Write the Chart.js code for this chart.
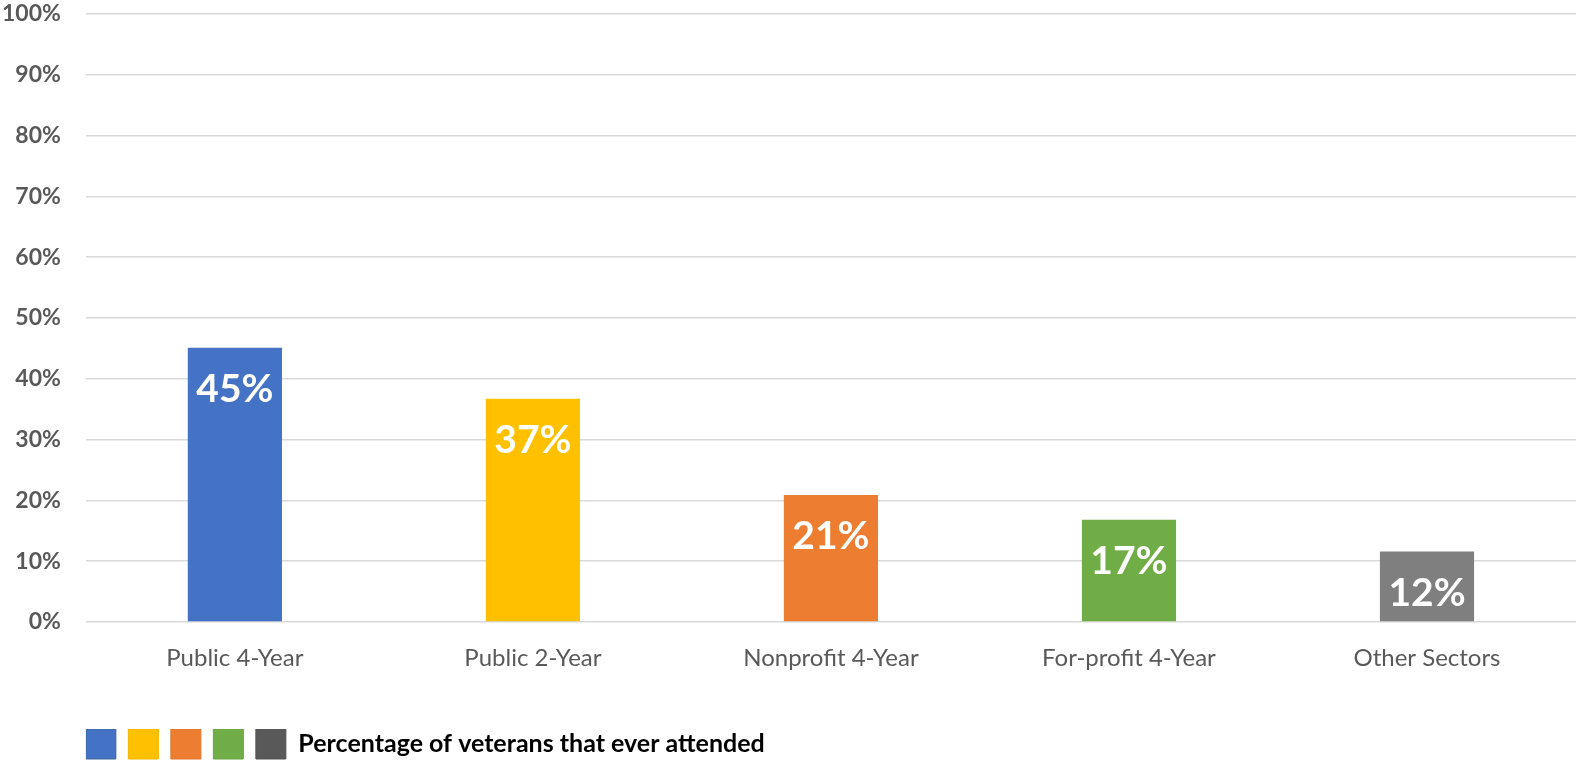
<!DOCTYPE html>
<html>
<head>
<meta charset="utf-8">
<script src="https://cdn.jsdelivr.net/npm/chart.js@4"></script>
<style>
    html, body { margin: 0; padding: 0; background: #fff; }
    #wrap { width: 1578px; height: 771px; }
</style>
</head>
<body>
<div id="wrap"><canvas id="sectorChart"></canvas></div>
<script>
const sectors = ['Public 4-Year', 'Public 2-Year', 'Nonprofit 4-Year', 'For-profit 4-Year', 'Other Sectors'];
const everAttended = [45.1, 36.7, 20.9, 16.8, 11.6];
const yTicks = [0, 10, 20, 30, 40, 50, 60, 70, 80, 90, 100];
const seriesName = 'Percentage of veterans that ever attended';

const barColors = ['#4472C4', '#FFC000', '#ED7D31', '#70AD47', '#7F7F7F'];
const legendColors = ['#4472C4', '#FFC000', '#ED7D31', '#70AD47', '#595959'];
const legendBorders = ['#3F6A9A', '#F2B800', '#E07628', '#6AA442', '#555555'];

// white value labels sitting inside the top of each bar
const barLabels = {
    id: 'barLabels',
    afterDatasetsDraw(chart) {
        const ctx = chart.ctx;
        const meta = chart.getDatasetMeta(0);
        ctx.save();
        ctx.fillStyle = '#ffffff';
        ctx.font = 'bold 39px Lato';
        ctx.textAlign = 'center';
        ctx.textBaseline = 'middle';
        meta.data.forEach((bar, i) => {
            ctx.fillText(Math.round(everAttended[i]) + '%', bar.x, bar.y + 42);
        });
        ctx.restore();
    }
};

const ctx = document.getElementById('sectorChart');

new Chart(ctx, {
    type: 'bar',
    data: {
        labels: sectors,
        datasets: [{
            label: seriesName,
            data: everAttended,
            backgroundColor: barColors,
            borderWidth: 0,
            barPercentage: 0.316,
            categoryPercentage: 1
        }]
    },
    options: {
        responsive: true,
        maintainAspectRatio: false,
        animation: false,
        layout: {
            padding: { left: 2, right: 2, top: 0, bottom: 2 }
        },
        scales: {
            x: {
                grid: { display: false, drawTicks: false },
                border: { display: false },
                ticks: {
                    color: '#595959',
                    font: { family: 'Lato', size: 24 },
                    padding: 22
                },
                afterFit: scale => { scale.height = 107; }
            },
            y: {
                min: 0,
                max: 100,
                afterBuildTicks: scale => {
                    scale.ticks = yTicks.map(v => ({ value: v }));
                },
                grid: {
                    color: '#d9d9d9',
                    lineWidth: 1.5,
                    drawTicks: true,
                    tickLength: 25,
                    tickColor: 'rgba(0,0,0,0)'
                },
                border: { display: false },
                ticks: {
                    color: '#595959',
                    font: { family: 'Lato', size: 23, weight: 'bold' },
                    padding: 0,
                    callback: v => v + '%'
                }
            }
        },
        plugins: {
            tooltip: { enabled: false },
            legend: {
                position: 'bottom',
                align: 'start',
                fullSize: false,
                onClick: () => {},
                labels: {
                    boxWidth: 30,
                    boxHeight: 30,
                    padding: 0,
                    color: '#000000',
                    font: { family: 'Lato', size: 25, weight: 'bold' },
                    generateLabels: () => legendColors.map((c, i) => ({
                        text: i === legendColors.length - 1 ? seriesName : '',
                        fillStyle: c,
                        strokeStyle: legendBorders[i],
                        lineWidth: 1,
                        hidden: false,
                        datasetIndex: 0
                    }))
                }
            }
        }
    },
    plugins: [barLabels]
});
</script>
</body>
</html>
